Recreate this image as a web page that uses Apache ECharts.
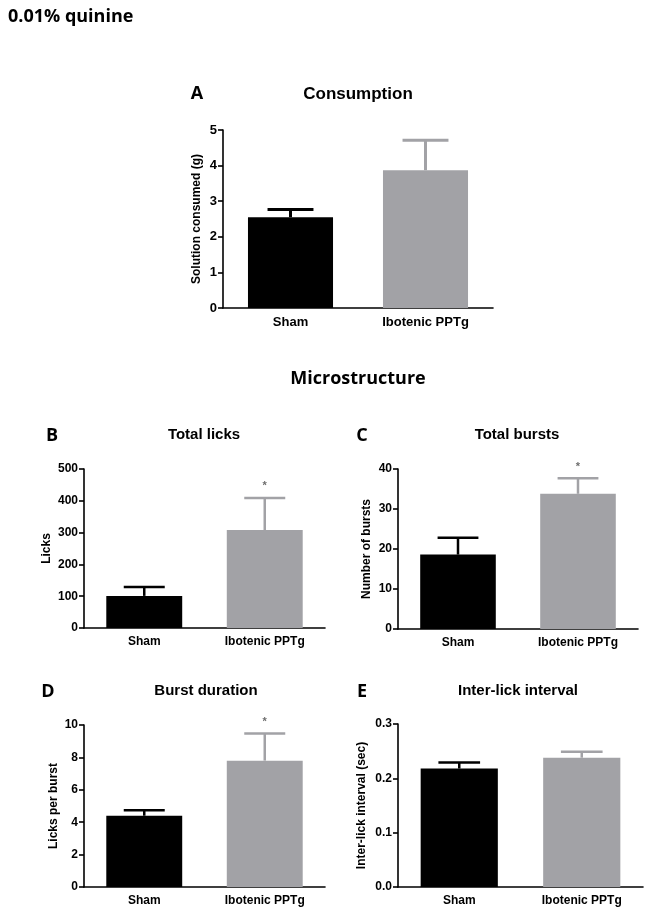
<!DOCTYPE html>
<html><head><meta charset="utf-8">
<script src="https://cdn.jsdelivr.net/npm/echarts@6/dist/echarts.min.js"></script>
<style>html,body{margin:0;padding:0;background:#fff}#c{width:651px;height:916px}</style>
</head><body><div id="c"></div>
<script>
const categories = ['Sham', 'Ibotenic PPTg'];
const consumption = [2.55, 3.87];
const consumptionErr = [0.22, 0.84];
const licks = [101, 308];
const licksErr = [28, 101];
const bursts = [18.6, 33.8];
const burstsErr = [4.2, 3.9];
const burstDuration = [4.4, 7.8];
const burstDurationErr = [0.33, 1.67];
const interLick = [0.218, 0.238];
const interLickErr = [0.011, 0.011];
const significant = [false, true]; // Sham, Ibotenic (for B, C, D)

const BLACK = '#000000', GRAY = '#a2a2a6';
const FONT = 'Liberation Sans';
const barColors = [BLACK, GRAY];

const panels = [
  {vals: consumption, errs: consumptionErr, min: 0, max: 5, interval: 1, name: 'Solution consumed (g)', sig: false, fs: 13, gap: 20, fmt: v => String(v)},
  {vals: licks, errs: licksErr, min: 0, max: 500, interval: 100, name: 'Licks', sig: true, fs: 12, gap: 31, fmt: v => String(v)},
  {vals: bursts, errs: burstsErr, min: 0, max: 40, interval: 10, name: 'Number of bursts', sig: true, fs: 12, gap: 25, fmt: v => String(v)},
  {vals: burstDuration, errs: burstDurationErr, min: 0, max: 10, interval: 2, name: 'Licks per burst', sig: true, fs: 12, gap: 24, fmt: v => String(v)},
  {vals: interLick, errs: interLickErr, min: 0, max: 0.3, interval: 0.1, name: 'Inter-lick interval (sec)', sig: false, fs: 12, gap: 30, fmt: v => v.toFixed(1)}
];

const grids = [
  {left: 223, top: 130, width: 270, height: 178},
  {left: 84, top: 469, width: 241, height: 159},
  {left: 398, top: 469, width: 240, height: 160},
  {left: 84, top: 725, width: 241, height: 162},
  {left: 398, top: 724, width: 245, height: 163}
];

const BARW = 0.63;
function errRender(params, api) {
  const i = api.value(0), v = api.value(1), e = api.value(2), s = api.value(3);
  const base = api.coord([i, v]);
  const top = api.coord([i, v + e]);
  const bw = api.size([1, 0])[0] * BARW;
  const half = bw * 0.27;
  const color = barColors[i];
  const lw = params.seriesIndex < 2 ? 3 : 2.5;
  const children = [
    {type: 'line', shape: {x1: top[0], y1: base[1], x2: top[0], y2: top[1]}, style: {stroke: color, lineWidth: lw}},
    {type: 'line', shape: {x1: top[0] - half, y1: top[1], x2: top[0] + half, y2: top[1]}, style: {stroke: color, lineWidth: lw}}
  ];
  if (s) {
    children.push({type: 'text', x: top[0], y: top[1] - 6, style: {text: '*', fill: '#6e6e6e', font: 'bold 11px ' + FONT, align: 'center', verticalAlign: 'bottom'}});
  }
  return {type: 'group', children};
}

const xAxis = [], yAxis = [], series = [];
panels.forEach((p, k) => {
  xAxis.push({
    type: 'category', gridIndex: k, data: categories,
    axisLine: {lineStyle: {color: '#000', width: 1.6}},
    axisTick: {alignWithLabel: true, length: 5, lineStyle: {color: '#000', width: 1.6}},
    axisLabel: {color: '#000', fontFamily: FONT, fontWeight: 'bold', fontSize: p.fs, margin: 8}
  });
  yAxis.push({
    type: 'value', gridIndex: k, min: p.min, max: p.max, interval: p.interval,
    name: p.name, nameLocation: 'middle', nameGap: p.gap,
    nameTextStyle: {color: '#000', fontFamily: FONT, fontWeight: 'bold', fontSize: p.fs - (k === 0 ? 1 : 0)},
    splitLine: {show: false},
    axisLine: {show: true, lineStyle: {color: '#000', width: 1.6}},
    axisTick: {show: true, length: 5, lineStyle: {color: '#000', width: 1.6}},
    axisLabel: {color: '#000', fontFamily: FONT, fontWeight: 'bold', fontSize: p.fs, margin: 6, formatter: p.fmt}
  });
  series.push({
    type: 'bar', xAxisIndex: k, yAxisIndex: k, barWidth: (BARW * 100) + '%', silent: true, z: 3,
    data: p.vals.map((v, i) => ({value: v, itemStyle: {color: barColors[i]}}))
  });
  series.push({
    type: 'custom', xAxisIndex: k, yAxisIndex: k, silent: true, z: 1,
    renderItem: errRender,
    encode: {x: 0, y: 1},
    data: p.vals.map((v, i) => [i, v, p.errs[i], (p.sig && significant[i]) ? 1 : 0])
  });
});

const titleStyle = {fill: '#000', font: 'bold 15px ' + FONT, align: 'center', verticalAlign: 'middle'};
const letterStyle = {fill: '#000', font: 'bold 18px "Open Sans"', align: 'center', verticalAlign: 'middle'};
const graphics = [
  {type: 'text', x: 8, y: 17, style: {text: '0.01% quinine', fill: '#000', font: 'bold 18px "Open Sans"', align: 'left', verticalAlign: 'middle'}},
  {type: 'text', x: 358, y: 379, style: {text: 'Microstructure', fill: '#000', font: 'bold 18px "Open Sans"', align: 'center', verticalAlign: 'middle'}},
  {type: 'text', x: 358, y: 94, style: Object.assign({}, titleStyle, {text: 'Consumption', font: 'bold 17px ' + FONT})},
  {type: 'text', x: 197, y: 94, style: Object.assign({}, letterStyle, {text: 'A'})},
  {type: 'text', x: 204, y: 435, style: Object.assign({}, titleStyle, {text: 'Total licks'})},
  {type: 'text', x: 52, y: 436, style: Object.assign({}, letterStyle, {text: 'B'})},
  {type: 'text', x: 517, y: 435, style: Object.assign({}, titleStyle, {text: 'Total bursts'})},
  {type: 'text', x: 362, y: 436, style: Object.assign({}, letterStyle, {text: 'C'})},
  {type: 'text', x: 206, y: 691, style: Object.assign({}, titleStyle, {text: 'Burst duration'})},
  {type: 'text', x: 48, y: 692, style: Object.assign({}, letterStyle, {text: 'D'})},
  {type: 'text', x: 518, y: 691, style: Object.assign({}, titleStyle, {text: 'Inter-lick interval'})},
  {type: 'text', x: 362, y: 692, style: Object.assign({}, letterStyle, {text: 'E'})}
];

const chart = echarts.init(document.getElementById('c'), null, {renderer: 'canvas'});
chart.setOption({
  animation: false,
  backgroundColor: '#fff',
  grid: grids,
  xAxis, yAxis, series,
  graphic: graphics
});
</script>
</body></html>
